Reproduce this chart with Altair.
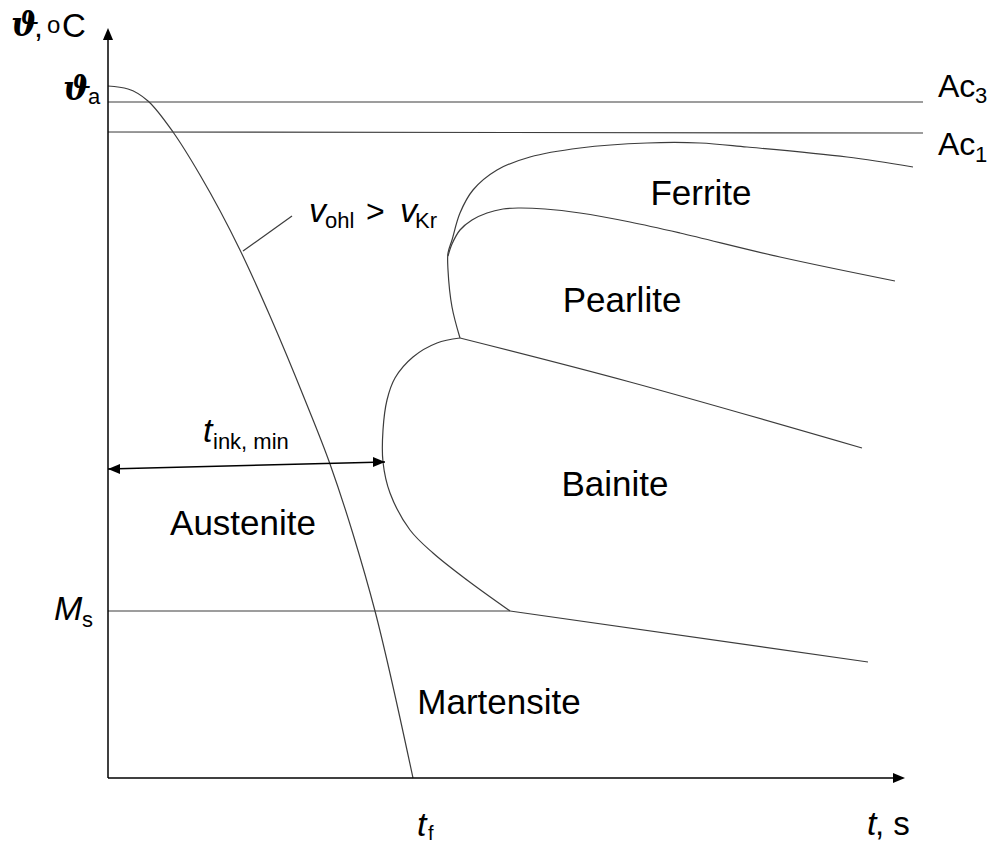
import altair as alt
import pandas as pd

# ---- data (time t and temperature T in arbitrary diagram units) ----
cool_t = [0, 20, 40, 65, 92, 132, 162, 197, 222, 245, 267, 305]
cool_T = [692, 689, 677, 646, 603, 528, 462, 378, 314, 244, 167, 0]

ac3_t = [0, 815]
ac3_T = [676, 676]
ac1_t = [0, 815]
ac1_T = [646, 645]

ms_t = [0, 402]
ms_T = [167, 167]
mf_t = [402, 760]
mf_T = [167, 116]

bain_t = [352, 329, 305, 287, 279, 275, 275, 282, 302, 325, 359, 402]
bain_T = [440, 435, 421, 400, 378, 348, 316, 285, 248, 225, 198, 167]

bup_t = [352, 522, 754]
bup_T = [440, 396, 330]

fer_t = [352, 344, 340, 340, 344, 352, 365, 389, 422, 472, 539, 592, 639, 739, 805]
fer_T = [440, 471, 508, 525, 538, 565, 588, 608, 621, 630, 635, 635, 631, 621, 611]

pea_t = [340, 344, 352, 364, 379, 395, 410, 437, 472, 522, 572, 672, 787]
pea_T = [522, 534, 548, 558, 565, 569, 570, 569, 565, 556, 545, 521, 497]

ptr_t = [135, 184]
ptr_T = [527, 562]

tink_t = [0, 277]
tink_T = [309, 316]

yax_t = [0, 0]
yax_T = [0, 745]
xax_t = [0, 790]
xax_T = [0, 0]

# region labels
reg_text = ["Ferrite", "Pearlite", "Bainite", "Austenite", "Martensite"]
reg_t = [593, 514, 507, 135, 391]
reg_T = [573, 466, 282, 243, 64]

# regular labels (left aligned)
lab_text = ["Ac", "Ac", ">", ", s", ",", "C"]
lab_t = [830, 830, 258, 767, -74, -46]
lab_T = [681, 623, 556, -57, 741, 741]
lab_fs = [32, 32, 32, 33, 32, 33]

# subscripts / superscripts
sub_text = ["3", "1", "a", "s", "f", "ohl", "Kr", "ink, min", "o"]
sub_t = [867, 867, -20, -26, 320, 217, 307, 105, -61]
sub_T = [675, 616, 674, 151, -62, 550, 550, 329, 745]
sub_fs = [22, 22, 22, 22, 20, 22, 22, 22, 24]

# italic symbols
ita_text = ["v", "v", "M", "t", "t", "t"]
ita_t = [201, 292, -54, 95, 309, 759]
ita_T = [556, 556, 158, 336, -58, -57]

# bold italic theta
th_text = ["ϑ", "ϑ"]
th_t = [-97, -45]
th_T = [742, 678]

# arrow heads
arr_t = [0, 797, 0, 277]
arr_T = [750, 0, 309, 316]
arr_shape = ["M0,0L-0.42,1L0.42,1Z", "M0,0L-1,-0.42L-1,0.42Z",
             "M0,0L1,-0.42L1,0.42Z", "M0,0L-1,-0.42L-1,0.42Z"]

# ---- build tables ----
def curves(items):
    rows = []
    for name, ts, Ts in items:
        for i, (a, b) in enumerate(zip(ts, Ts)):
            rows.append({"curve": name, "ord": i, "t": a, "T": b})
    return pd.DataFrame(rows)

smooth = curves([
    ("ac3", ac3_t, ac3_T), ("ac1", ac1_t, ac1_T),
    ("ms", ms_t, ms_T), ("mf", mf_t, mf_T), ("bain", bain_t, bain_T),
    ("bup", bup_t, bup_T), ("fer", fer_t, fer_T), ("pea", pea_t, pea_T),
    ("ptr", ptr_t, ptr_T),
])
cooling = curves([("cool", cool_t, cool_T)])
black = curves([("yax", yax_t, yax_T), ("xax", xax_t, xax_T), ("tink", tink_t, tink_T)])

xs = alt.Scale(domain=[0, 820], nice=False, zero=False)
ys = alt.Scale(domain=[0, 758], nice=False, zero=False)
X = alt.X("t:Q", scale=xs, axis=None)
Y = alt.Y("T:Q", scale=ys, axis=None)

gray_layer = alt.Chart(smooth).mark_line(
    interpolate="catmull-rom", color="#3c3c3c", strokeWidth=1.2
).encode(x=X, y=Y, detail="curve:N", order="ord:Q")

cool_layer = alt.Chart(cooling).mark_line(
    interpolate="monotone", color="#3c3c3c", strokeWidth=1.2
).encode(x=X, y=Y, order="ord:Q")

black_layer = alt.Chart(black).mark_line(color="black", strokeWidth=1.5).encode(
    x=X, y=Y, detail="curve:N", order="ord:Q")

arrows = alt.Chart(pd.DataFrame({"t": arr_t, "T": arr_T, "shape": arr_shape})).mark_point(
    filled=True, color="black", opacity=1, size=576, strokeWidth=0
).encode(x=X, y=Y, shape=alt.Shape("shape:N", scale=None))

reg = alt.Chart(pd.DataFrame({"t": reg_t, "T": reg_T, "label": reg_text})).mark_text(
    align="center", baseline="alphabetic", font="Liberation Sans", fontSize=35, color="black"
).encode(x=X, y=Y, text="label:N")

lab = alt.Chart(pd.DataFrame({"t": lab_t, "T": lab_T, "label": lab_text, "fs": lab_fs})).mark_text(
    align="left", baseline="alphabetic", font="Liberation Sans", color="black"
).encode(x=X, y=Y, text="label:N", size=alt.Size("fs:Q", scale=None))

sub = alt.Chart(pd.DataFrame({"t": sub_t, "T": sub_T, "label": sub_text, "fs": sub_fs})).mark_text(
    align="left", baseline="alphabetic", font="Liberation Sans", color="black"
).encode(x=X, y=Y, text="label:N", size=alt.Size("fs:Q", scale=None))

ita = alt.Chart(pd.DataFrame({"t": ita_t, "T": ita_T, "label": ita_text})).mark_text(
    align="left", baseline="alphabetic", font="Liberation Sans", fontStyle="italic",
    fontSize=34, color="black"
).encode(x=X, y=Y, text="label:N")

th = alt.Chart(pd.DataFrame({"t": th_t, "T": th_T, "label": th_text})).mark_text(
    align="left", baseline="alphabetic", font="DejaVu Serif", fontStyle="italic",
    fontWeight="bold", fontSize=33, color="black"
).encode(x=X, y=Y, text="label:N")

chart = alt.layer(gray_layer, cool_layer, black_layer, arrows, reg, lab, sub, ita, th).properties(
    width=820, height=758, autosize="none",
    padding={"left": 100, "top": 12, "right": 59, "bottom": 65},
    background="white",
).configure_view(stroke=None)

chart.save("out.html", embed_options={"renderer": "svg", "actions": False})
